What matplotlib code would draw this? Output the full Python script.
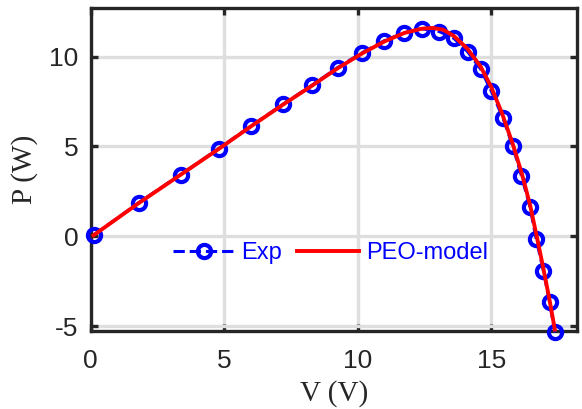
import matplotlib
matplotlib.use('Agg')
import matplotlib.pyplot as plt
from matplotlib.lines import Line2D

plt.rcParams['axes.unicode_minus'] = False
plt.rcParams['font.family'] = ['Liberation Sans', 'DejaVu Sans']

# ── Данные ───────────────────────────────────────────────────────────────────
v_exp = [0.12, 1.80, 3.36, 4.79, 6.01, 7.19, 8.30, 9.24, 10.16, 10.98, 11.74,
         12.42, 13.05, 13.59, 14.11, 14.60, 15.00, 15.43, 15.80, 16.13, 16.45,
         16.68, 16.95, 17.18, 17.38]
p_exp = [0.08, 1.87, 3.43, 4.88, 6.15, 7.34, 8.42, 9.39, 10.22, 10.88, 11.34,
         11.55, 11.40, 11.03, 10.28, 9.31, 8.08, 6.61, 5.03, 3.35, 1.62,
         -0.15, -1.92, -3.65, -5.36]

v_model = [0.10, 1.80, 3.36, 4.80, 6.00, 7.20, 8.30, 9.24, 10.16, 11.00, 11.74,
           12.40, 12.80, 13.20, 13.60, 14.10, 14.60, 15.00, 15.40, 15.80, 16.15,
           16.45, 16.70, 16.95, 17.18, 17.38]
p_model = [0.05, 1.85, 3.42, 4.87, 6.12, 7.33, 8.40, 9.35, 10.18, 10.85, 11.32,
           11.56, 11.60, 11.50, 11.15, 10.45, 9.45, 8.30, 6.85, 5.15, 3.45,
           1.75, 0.00, -1.80, -3.55, -5.20]

xticks = [0, 5, 10, 15]
yticks = [-5, 0, 5, 10]

# ── График ───────────────────────────────────────────────────────────────────
fig = plt.figure(figsize=(5.82, 4.09), dpi=100)
ax = fig.add_axes([0.156, 0.191, 0.835, 0.789])

ax.plot(v_exp, p_exp, '--o', color='blue', lw=2.2, ms=9.5, mew=3,
        mfc='none', zorder=3, clip_on=False)
ax.plot(v_model, p_model, '-', color='red', lw=2.8, zorder=4, clip_on=False)

ax.set_xlim(0, 18.2)
ax.set_ylim(-5.27, 12.7)
ax.set_xticks(xticks)
ax.set_yticks(yticks)
ax.grid(True, color='#dedede', lw=2.4)
ax.set_axisbelow(True)

for s in ax.spines.values():
    s.set_linewidth(2.4)
    s.set_color('#262626')
ax.tick_params(direction='in', length=5, width=2.4, top=True, right=True,
               labelsize=19, colors='#262626')
ax.tick_params(axis='x', pad=13)
ax.tick_params(axis='y', pad=9)

ax.set_xlabel('V (V)', family=['Liberation Serif'], fontsize=21, labelpad=5,
              color='#262626')
ax.set_ylabel('P (W)', family=['Liberation Serif'], fontsize=21, labelpad=8,
              color='#262626')

handles = [Line2D([], [], ls='--', marker='o', color='blue', lw=2.2, ms=9.5,
                  mew=3, mfc='none'),
           Line2D([], [], ls='-', color='red', lw=2.8)]
leg = ax.legend(handles, ['Exp', 'PEO-model'], loc='center',
                bbox_to_anchor=(0.493, 0.242), ncol=2, frameon=False,
                fontsize=17, handlelength=2.6, columnspacing=0.63,
                handletextpad=0.3, labelcolor='blue', borderpad=0)

fig.savefig('out.png', dpi=100)
